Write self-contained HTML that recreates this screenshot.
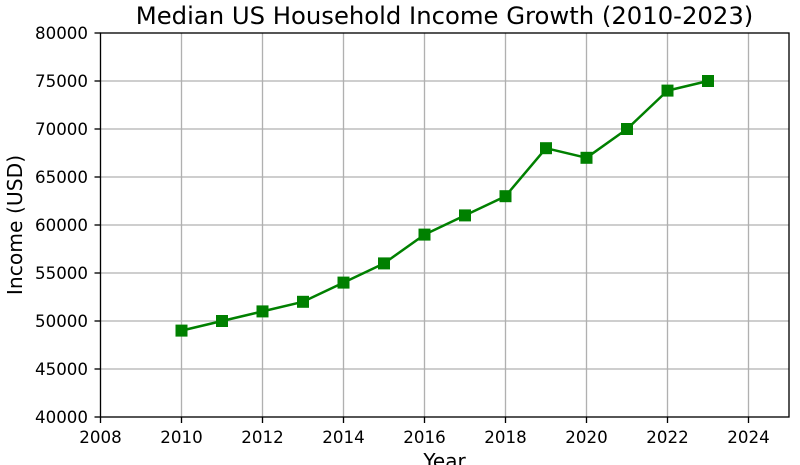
<!DOCTYPE html>
<html>
<head>
<meta charset="utf-8">
<style>
html,body{margin:0;padding:0;background:#fff;}
svg{display:block;}
text{font-family:"DejaVu Sans","Liberation Sans",sans-serif;fill:#000;}
</style>
</head>
<body>
<svg width="800" height="465" viewBox="0 0 800 465" xmlns="http://www.w3.org/2000/svg">
<rect x="0" y="0" width="800" height="465" fill="#fff"/>
<!-- grid -->
<g stroke="#b0b0b0" stroke-width="1.33">
<line x1="181.5" y1="33" x2="181.5" y2="417"/>
<line x1="262.5" y1="33" x2="262.5" y2="417"/>
<line x1="343.5" y1="33" x2="343.5" y2="417"/>
<line x1="424.5" y1="33" x2="424.5" y2="417"/>
<line x1="505.5" y1="33" x2="505.5" y2="417"/>
<line x1="586.5" y1="33" x2="586.5" y2="417"/>
<line x1="667.5" y1="33" x2="667.5" y2="417"/>
<line x1="748.5" y1="33" x2="748.5" y2="417"/>
<line x1="100" y1="81" x2="789" y2="81"/>
<line x1="100" y1="129" x2="789" y2="129"/>
<line x1="100" y1="177" x2="789" y2="177"/>
<line x1="100" y1="225" x2="789" y2="225"/>
<line x1="100" y1="273" x2="789" y2="273"/>
<line x1="100" y1="321" x2="789" y2="321"/>
<line x1="100" y1="369" x2="789" y2="369"/>
</g>
<!-- data line -->
<polyline fill="none" stroke="#008000" stroke-width="2.5" stroke-linejoin="round"
points="181.5,330.6 222,321 262.5,311.4 303,301.8 343.5,282.6 384,263.4 424.5,234.6 465,215.4 505.5,196.2 546,148.2 586.5,157.8 627,129 667.5,90.6 708,81"/>
<g fill="#008000">
<rect x="175.5" y="324.6" width="12" height="12"/>
<rect x="216" y="315" width="12" height="12"/>
<rect x="256.5" y="305.4" width="12" height="12"/>
<rect x="297" y="295.8" width="12" height="12"/>
<rect x="337.5" y="276.6" width="12" height="12"/>
<rect x="378" y="257.4" width="12" height="12"/>
<rect x="418.5" y="228.6" width="12" height="12"/>
<rect x="459" y="209.4" width="12" height="12"/>
<rect x="499.5" y="190.2" width="12" height="12"/>
<rect x="540" y="142.2" width="12" height="12"/>
<rect x="580.5" y="151.8" width="12" height="12"/>
<rect x="621" y="123" width="12" height="12"/>
<rect x="661.5" y="84.6" width="12" height="12"/>
<rect x="702" y="75" width="12" height="12"/>
</g>
<!-- axes box -->
<rect x="100.5" y="33" width="688.5" height="384" fill="none" stroke="#000" stroke-width="1.33"/>
<!-- ticks -->
<g stroke="#000" stroke-width="1.33">
<line x1="100.5" y1="417" x2="100.5" y2="423"/>
<line x1="181.5" y1="417" x2="181.5" y2="423"/>
<line x1="262.5" y1="417" x2="262.5" y2="423"/>
<line x1="343.5" y1="417" x2="343.5" y2="423"/>
<line x1="424.5" y1="417" x2="424.5" y2="423"/>
<line x1="505.5" y1="417" x2="505.5" y2="423"/>
<line x1="586.5" y1="417" x2="586.5" y2="423"/>
<line x1="667.5" y1="417" x2="667.5" y2="423"/>
<line x1="748.5" y1="417" x2="748.5" y2="423"/>
<line x1="94.5" y1="33" x2="100.5" y2="33"/>
<line x1="94.5" y1="81" x2="100.5" y2="81"/>
<line x1="94.5" y1="129" x2="100.5" y2="129"/>
<line x1="94.5" y1="177" x2="100.5" y2="177"/>
<line x1="94.5" y1="225" x2="100.5" y2="225"/>
<line x1="94.5" y1="273" x2="100.5" y2="273"/>
<line x1="94.5" y1="321" x2="100.5" y2="321"/>
<line x1="94.5" y1="369" x2="100.5" y2="369"/>
<line x1="94.5" y1="417" x2="100.5" y2="417"/>
</g>
<!-- x tick labels -->
<g font-size="16.67" text-anchor="middle">
<text x="100.5" y="443">2008</text>
<text x="181.5" y="443">2010</text>
<text x="262.5" y="443">2012</text>
<text x="343.5" y="443">2014</text>
<text x="424.5" y="443">2016</text>
<text x="505.5" y="443">2018</text>
<text x="586.5" y="443">2020</text>
<text x="667.5" y="443">2022</text>
<text x="748.5" y="443">2024</text>
</g>
<!-- y tick labels -->
<g font-size="16.67" text-anchor="end">
<text x="88" y="39">80000</text>
<text x="88" y="87">75000</text>
<text x="88" y="135">70000</text>
<text x="88" y="183">65000</text>
<text x="88" y="231">60000</text>
<text x="88" y="279">55000</text>
<text x="88" y="327">50000</text>
<text x="88" y="375">45000</text>
<text x="88" y="423">40000</text>
</g>
<!-- labels -->
<text x="444.5" y="24" font-size="24.3" text-anchor="middle">Median US Household Income Growth (2010-2023)</text>
<text x="444.5" y="468" font-size="20" text-anchor="middle">Year</text>
<text transform="translate(22,225) rotate(-90)" font-size="20.3" text-anchor="middle">Income (USD)</text>
</svg>
</body>
</html>
